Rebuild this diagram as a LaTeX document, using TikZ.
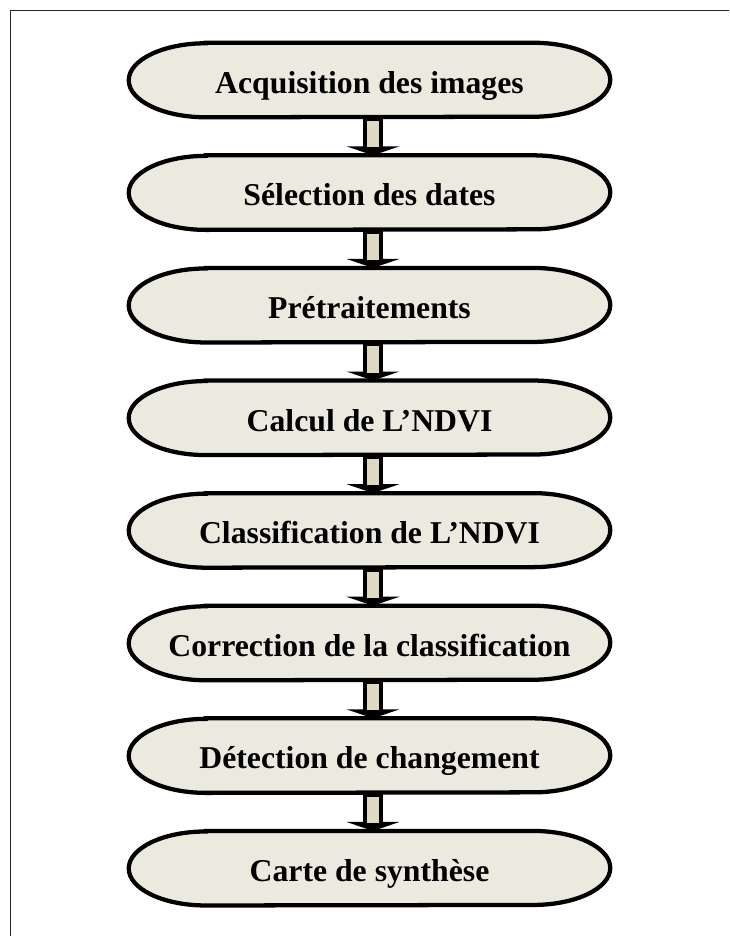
\documentclass[tikz,border=0pt]{standalone}
\usepackage{fontspec}
\setmainfont{Liberation Serif}
\usetikzlibrary{backgrounds}
\definecolor{termfill}{HTML}{ECEADF}
\definecolor{shaftfill}{HTML}{DDD9C3}
\begin{document}
\begin{tikzpicture}[x=0.75pt,y=-0.75pt,
  termbox/.style={minimum width=360.75pt,minimum height=55.5pt,inner sep=0pt,
    text height=20pt,text depth=0pt,
    font=\fontsize{23.8}{28}\selectfont\bfseries},
  termline/.style={line width=3.2pt,fill=termfill,draw=black},
  shaftline/.style={line width=3pt,fill=shaftfill,draw=black},
  frameline/.style={line width=1.4pt,draw=black!85}]
\useasboundingbox (0,0) rectangle (729,936);
\draw[frameline] (10.5,936) |- (729,10.5);
\foreach \i/\t [count=\k from 0] in {a/Acquisition des images,
  b/Sélection des dates,
  c/Prétraitements,
  d/Calcul de L’NDVI,
  e/Classification de L’NDVI,
  f/Correction de la classification,
  g/Détection de changement,
  h/Carte de synthèse}{
  \node[termbox] (\i) at (369.5,{80+112.6*\k}) {\t};
  \begin{scope}[on background layer]
  \draw[termline] ([xshift=57.75pt]\i.north west) -- ([xshift=-57.75pt]\i.north east)
     arc[start angle=90,end angle=-90,x radius=57.75pt,y radius=27.75pt]
     -- ([xshift=57.75pt]\i.south west)
     arc[start angle=270,end angle=90,x radius=57.75pt,y radius=27.75pt] -- cycle;
  \end{scope}
}
\foreach \u/\v in {a/b,b/c,c/d,d/e,e/f,f/g,g/h}{
  \fill[black] ([xshift=-17.25pt,yshift=6.75pt]\v.north) -- ([xshift=22.5pt,yshift=6.75pt]\v.north)
     -- ([xshift=2.6pt]\v.north) -- cycle;
  \draw[shaftline] ([xshift=-3.1pt,yshift=-1.5pt]\u.south) rectangle ([xshift=8.3pt,yshift=4.5pt]\v.north);
}
\end{tikzpicture}
\end{document}
